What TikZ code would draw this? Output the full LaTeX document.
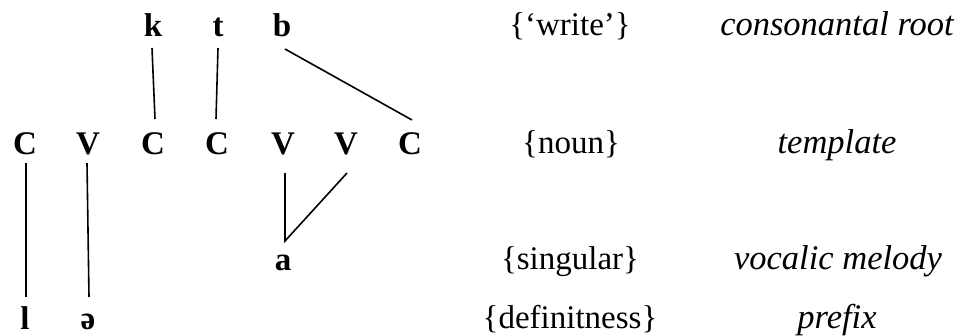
\documentclass[tikz,border=0pt]{standalone}
\usepackage{fontspec}
\setmainfont{Liberation Serif}
\begin{document}
\begin{tikzpicture}[x=1pt,y=-1pt,
  seg/.style={inner sep=0pt,anchor=base,font=\fontsize{33}{38}\selectfont\bfseries},
  gloss/.style={inner sep=0pt,anchor=base,font=\fontsize{33}{38}\selectfont},
  lab/.style={inner sep=0pt,anchor=base,font=\fontsize{34.5}{40}\selectfont\itshape},
  assoc/.style={line width=1.6pt,black}]
\useasboundingbox (0,0) rectangle (960,335);
% root
\node[seg] (k) at (153,36) {k};
\node[seg] (t) at (218,36) {t};
\node[seg] (b) at (282,36) {b};
% template
\node[seg] (C1) at (25,154) {C};
\node[seg] (V2) at (88,154) {V};
\node[seg] (C3) at (153,154) {C};
\node[seg] (C4) at (217,154) {C};
\node[seg] (V5) at (283,154) {V};
\node[seg] (V6) at (346,154) {V};
\node[seg] (C7) at (410,154) {C};
% melody
\node[seg] (a) at (283,270) {a};
% prefix
\node[seg] (l) at (25,329) {l};
\node[seg] (schwa) at (88,329) {ə};
% glosses
\node[gloss] (g1) at (570,35) {\{‘write’\}};
\node[gloss] (g2) at (571,153) {\{noun\}};
\node[gloss] (g3) at (570,269) {\{singular\}};
\node[gloss] (g4) at (570,328) {\{definitness\}};
% labels
\node[lab] (l1) at (837,35) {consonantal root};
\node[lab] (l2) at (837,153) {template};
\node[lab] (l3) at (838,269) {vocalic melody};
\node[lab] (l4) at (837,328) {prefix};
% association lines
\draw[assoc] ([shift={(-1,12)}]k.base) -- ([shift={(2,-35)}]C3.base);
\draw[assoc] ([shift={(0,12)}]t.base) -- ([shift={(-1,-35)}]C4.base);
\draw[assoc] ([shift={(3,13)}]b.base) -- ([shift={(2,-34)}]C7.base);
\draw[assoc] ([shift={(1,9)}]C1.base) -- ([shift={(1,-32)}]l.base);
\draw[assoc] ([shift={(-1,9)}]V2.base) -- ([shift={(1,-32)}]schwa.base);
\draw[assoc] ([shift={(2,19)}]V5.base) -- ([shift={(2,-29)}]a.base) -- ([shift={(1,19)}]V6.base);
\end{tikzpicture}
\end{document}
